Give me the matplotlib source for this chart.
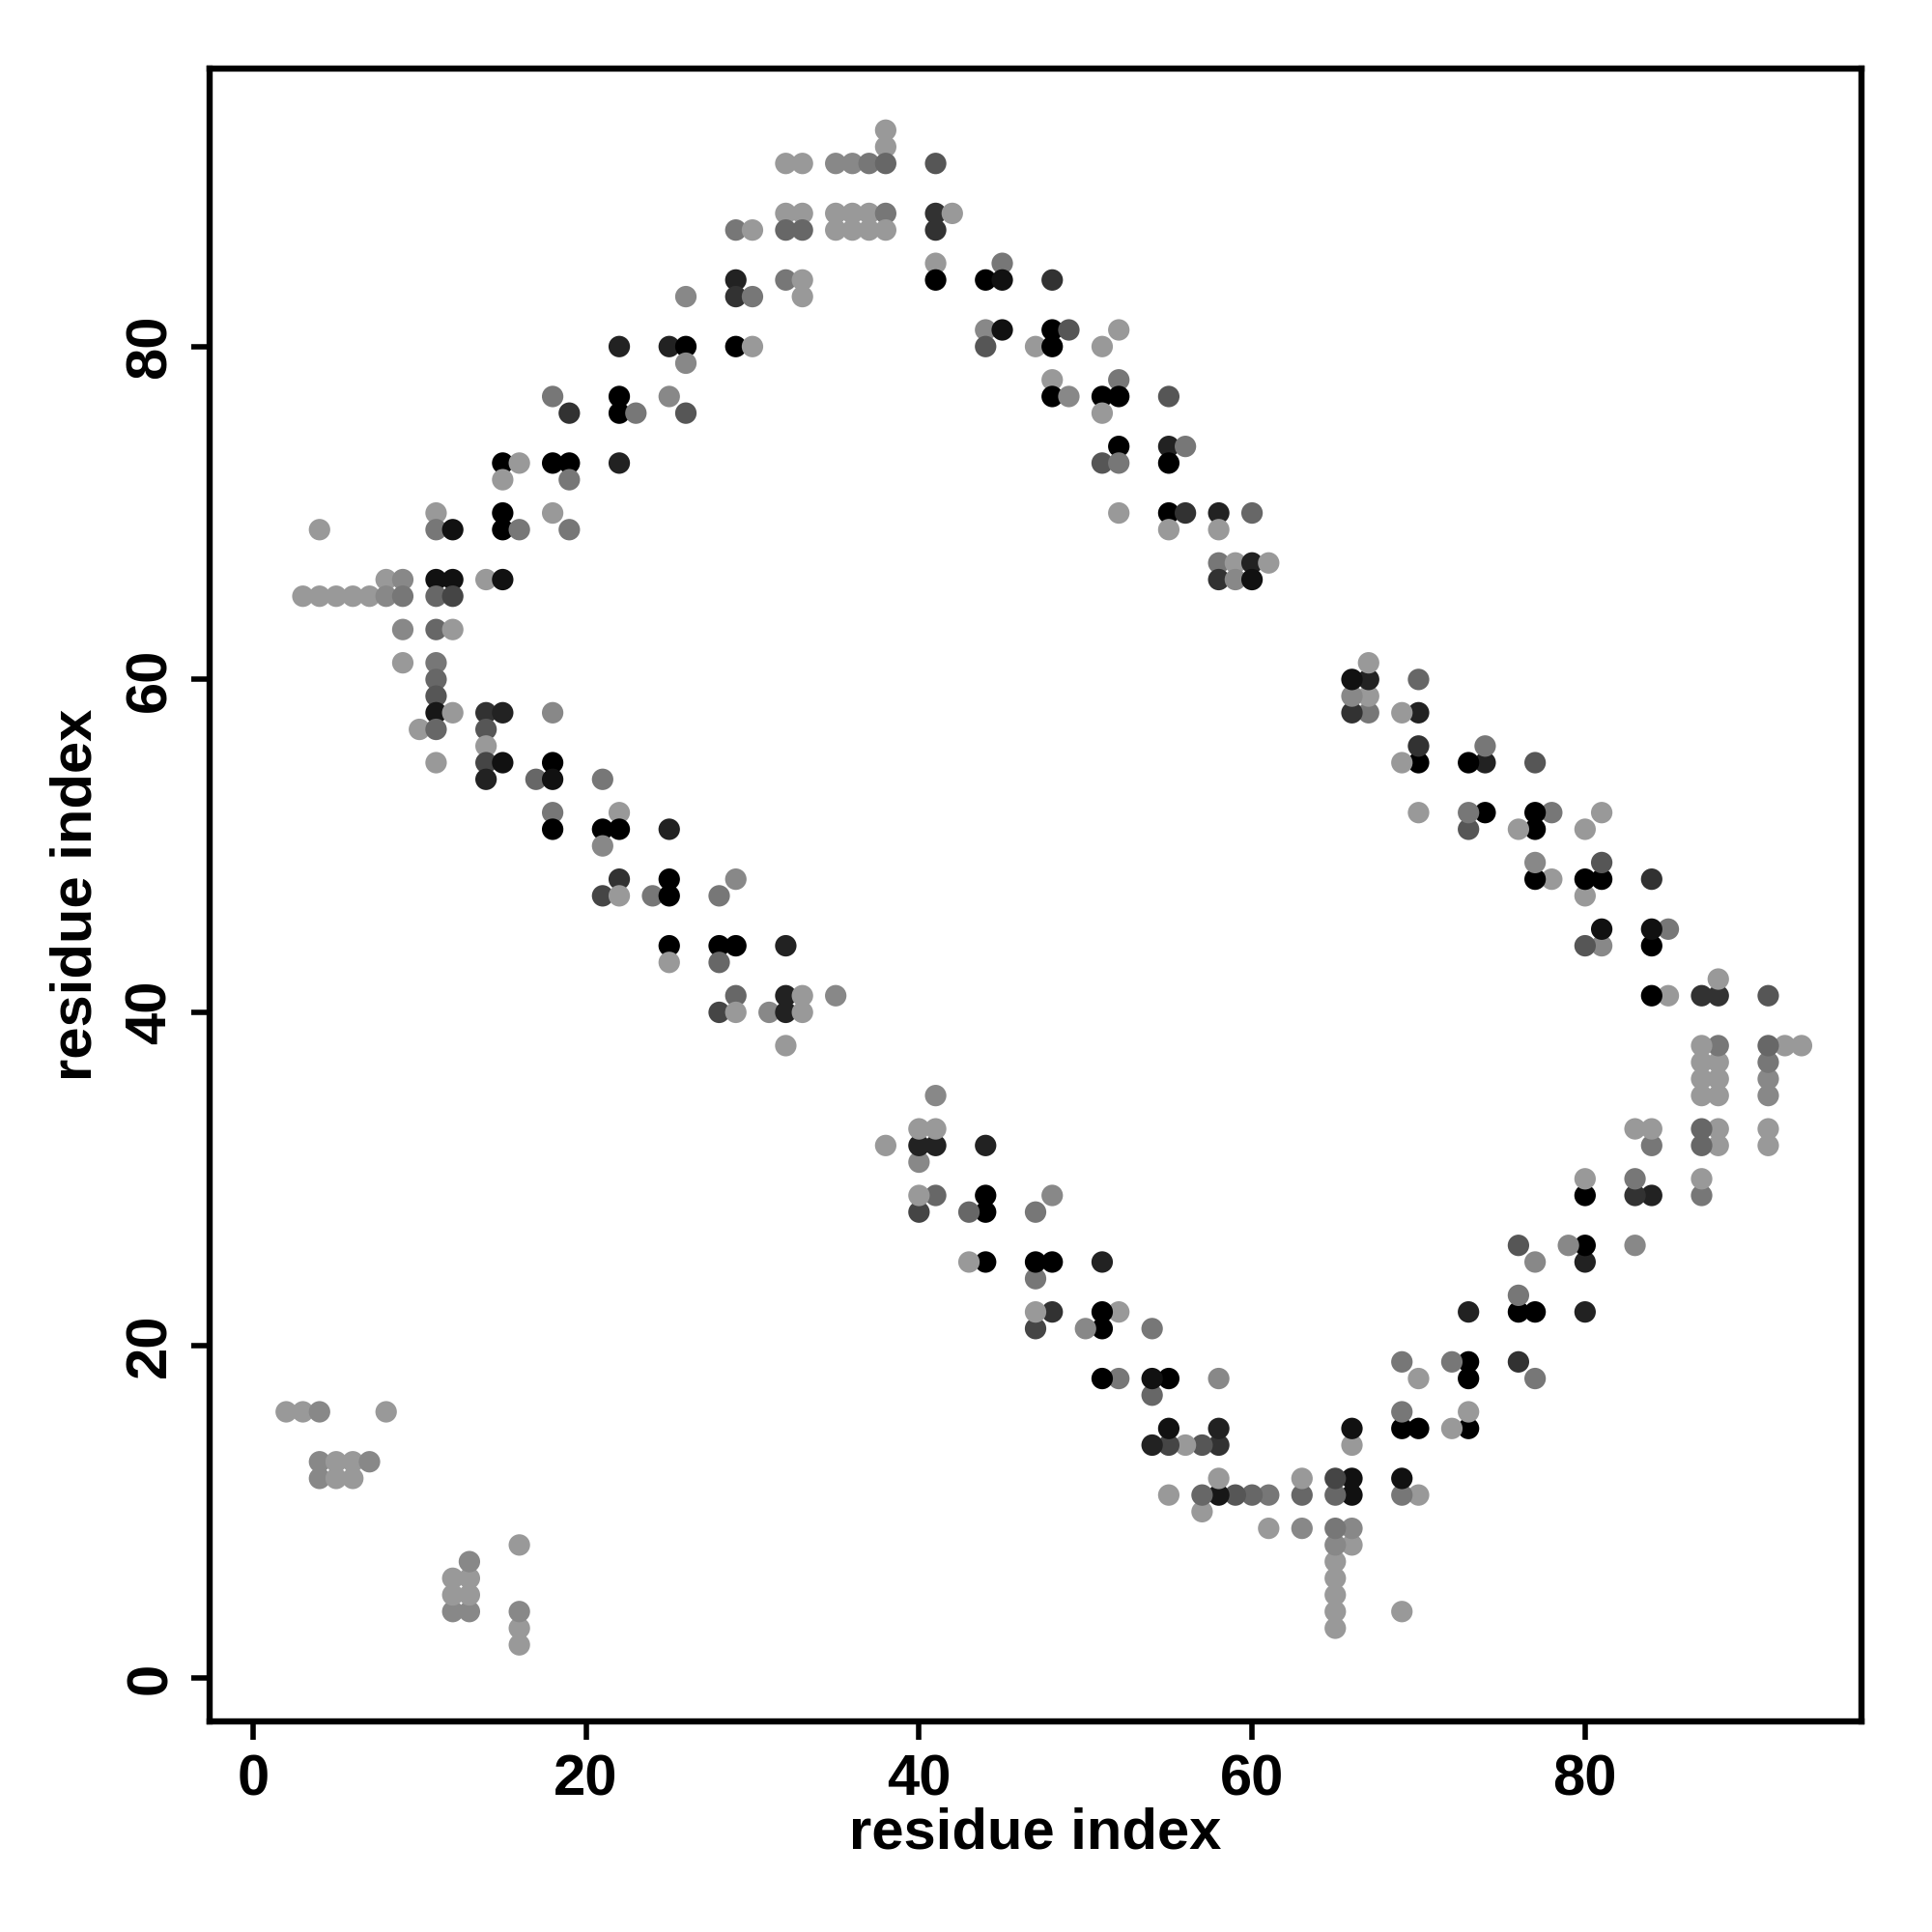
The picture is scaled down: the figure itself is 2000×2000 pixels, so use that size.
import matplotlib
matplotlib.use("Agg")
import matplotlib.pyplot as plt
from matplotlib.colors import LinearSegmentedColormap

# contact pairs (i < j) and their score; the map is drawn for (i, j) and (j, i)
res_i = [2, 3, 4, 8, 4, 5, 6, 7, 4, 5, 6,
         38, 38, 32, 33, 35, 36, 37, 38, 32, 33, 35, 36, 37, 38,
         29, 30, 32, 33, 35, 36, 37, 38, 29, 32, 33, 26, 29, 30, 33,
         22, 25, 26, 29, 30, 26, 18, 22, 25, 19, 22, 23, 26,
         15, 16, 18, 19, 22, 15, 19, 11, 15, 18, 4, 11, 12, 15, 16, 19,
         8, 9, 11, 12, 14, 15, 3, 4, 5, 6, 7, 8, 9, 11, 12,
         9, 11, 12, 9, 11, 11, 11, 11, 12, 14, 15, 18, 10, 11, 14, 14,
         11, 14, 15, 18, 14, 17, 18, 21, 18, 22, 18, 21, 22, 25, 21,
         22, 25, 29, 21, 22, 24, 25, 28, 25, 28, 29, 32, 25, 28,
         29, 32, 33, 35, 28, 29, 31, 32, 33, 32,
         41, 41, 42, 41, 41, 45, 41, 44, 45, 48, 44, 45, 48, 49, 52,
         44, 47, 48, 51, 48, 52, 48, 49, 51, 52, 55, 51, 52, 55, 56,
         51, 52, 55, 52, 55, 56, 58, 60, 55, 58, 58, 59, 60, 61, 58, 59, 60]
res_j = [16, 16, 16, 16, 13, 13, 13, 13, 12, 12, 12,
         93, 92, 91, 91, 91, 91, 91, 91, 88, 88, 88, 88, 88, 88,
         87, 87, 87, 87, 87, 87, 87, 87, 84, 84, 84, 83, 83, 83, 83,
         80, 80, 80, 80, 80, 79, 77, 77, 77, 76, 76, 76, 76,
         73, 73, 73, 73, 73, 72, 72, 70, 70, 70, 69, 69, 69, 69, 69, 69,
         66, 66, 66, 66, 66, 66, 65, 65, 65, 65, 65, 65, 65, 65, 65,
         63, 63, 63, 61, 61, 60, 59, 58, 58, 58, 58, 58, 57, 57, 57, 56,
         55, 55, 55, 55, 54, 54, 54, 54, 52, 52, 51, 51, 51, 51, 50,
         48, 48, 48, 47, 47, 47, 47, 47, 44, 44, 44, 44, 43, 43,
         41, 41, 41, 41, 40, 40, 40, 40, 40, 38,
         91, 88, 88, 87, 85, 85, 84, 84, 84, 84, 81, 81, 81, 81, 81,
         80, 80, 80, 80, 78, 78, 77, 77, 77, 77, 77, 76, 74, 74, 74,
         73, 73, 73, 70, 70, 70, 70, 70, 69, 69, 67, 67, 67, 67, 66, 66, 66]
score = [0.0, 0.0, 0.11, 0.0, 0.11, 0.0, 0.0, 0.11, 0.11, 0.0, 0.0,
         0.0, 0.0, 0.0, 0.0, 0.11, 0.11, 0.22, 0.33, 0.0, 0.0, 0.0, 0.0, 0.0, 0.22,
         0.22, 0.0, 0.33, 0.33, 0.0, 0.0, 0.0, 0.0, 0.78, 0.22, 0.0, 0.11, 0.67, 0.22, 0.0,
         0.78, 0.78, 1.0, 1.0, 0.0, 0.11, 0.22, 1.0, 0.11, 0.67, 1.0, 0.22, 0.44,
         1.0, 0.0, 1.0, 1.0, 0.78, 0.0, 0.22, 0.0, 1.0, 0.0, 0.0, 0.22, 0.89, 1.0, 0.22, 0.22,
         0.0, 0.11, 0.89, 0.89, 0.0, 0.89, 0.0, 0.0, 0.0, 0.0, 0.0, 0.11, 0.22, 0.33, 0.55,
         0.11, 0.33, 0.0, 0.0, 0.22, 0.33, 0.44, 0.85, 0.0, 0.67, 0.78, 0.11, 0.0, 0.33, 0.44, 0.0,
         0.0, 0.55, 0.89, 1.0, 0.78, 0.33, 0.89, 0.22, 0.22, 0.0, 1.0, 1.0, 1.0, 0.78, 0.11,
         0.67, 1.0, 0.11, 0.55, 0.0, 0.22, 1.0, 0.22, 1.0, 1.0, 1.0, 0.78, 0.0, 0.33,
         0.33, 0.78, 0.0, 0.11, 0.55, 0.0, 0.11, 0.78, 0.0, 0.0,
         0.44, 0.67, 0.0, 0.67, 0.0, 0.22, 1.0, 1.0, 0.89, 0.67, 0.11, 0.89, 1.0, 0.44, 0.0,
         0.44, 0.0, 1.0, 0.0, 0.0, 0.22, 1.0, 0.11, 1.0, 1.0, 0.44, 0.0, 1.0, 0.78, 0.22,
         0.44, 0.22, 1.0, 0.0, 1.0, 0.67, 0.78, 0.33, 0.0, 0.0, 0.22, 0.0, 0.78, 0.0, 0.67, 0.11, 0.89]

ticks = [0, 20, 40, 60, 80]

plt.rcParams['font.family'] = ['Liberation Sans', 'DejaVu Sans']
plt.rcParams['font.weight'] = 'bold'

cmap = LinearSegmentedColormap.from_list('greys', ['#999999', '#000000'])

fig = plt.figure(figsize=(10, 10), dpi=200)
ax = fig.add_axes([0.1085, 0.109, 0.855, 0.8555])

xs = res_i + res_j
ys = res_j + res_i
cs = score + score
ax.scatter(xs, ys, c=cs, cmap=cmap, vmin=0, vmax=1, s=64, linewidths=0)

ax.set_xlim(-2.6, 96.6)
ax.set_ylim(-2.6, 96.7)
ax.set_xticks(ticks)
ax.set_yticks(ticks)
ax.set_xticklabels([str(t) for t in ticks], fontsize=21.5, fontweight='bold')
ax.set_yticklabels([str(t) for t in ticks], fontsize=21.5, fontweight='bold',
                   rotation=90, va='center')
ax.tick_params(direction='out', length=7, width=2, pad=5)
for sp in ax.spines.values():
    sp.set_linewidth(2.3)

ax.set_xlabel('residue index', fontsize=21.5, fontweight='bold', labelpad=0)
ax.set_ylabel('residue index', fontsize=21.5, fontweight='bold', labelpad=8)

fig.savefig('out.png', dpi=200, facecolor='white')
